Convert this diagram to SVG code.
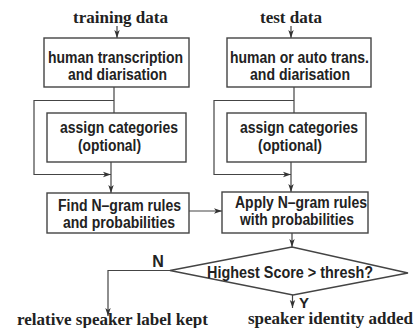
<svg xmlns="http://www.w3.org/2000/svg" width="415" height="328" viewBox="0 0 415 328">
<style>
.box{fill:#fff;stroke:#444;stroke-width:1.4}
.ln{fill:none;stroke:#444;stroke-width:1.2}
.t{font-family:"Liberation Sans",Arial,sans-serif;font-weight:bold;font-size:16px;fill:#222;text-anchor:middle}
.s{font-family:"Liberation Serif","Times New Roman",serif;font-weight:bold;font-size:16px;fill:#222;text-anchor:middle}
</style>
<defs>
<marker id="ah" markerUnits="userSpaceOnUse" markerWidth="9" markerHeight="7" refX="8" refY="3.5" orient="auto">
<path d="M0,0.8 L8,3.5 L0,6.2 L2,3.5 z" fill="#333"/>
</marker>
</defs>
<rect width="415" height="328" fill="#fff"/>
<g id="connectors">
<line class="ln" x1="117" y1="26" x2="117" y2="38" marker-end="url(#ah)"/>
<line class="ln" x1="291" y1="26" x2="291" y2="38" marker-end="url(#ah)"/>
<line class="ln" x1="114" y1="87" x2="114" y2="113"/>
<polyline class="ln" points="114,100.5 34,100.5 34,174.5 111,174.5" marker-end="url(#ah)"/>
<line class="ln" x1="111" y1="162" x2="111" y2="193" marker-end="url(#ah)"/>
<line class="ln" x1="294" y1="87" x2="294" y2="113"/>
<polyline class="ln" points="294,100.5 214,100.5 214,174.5 291,174.5" marker-end="url(#ah)"/>
<line class="ln" x1="291" y1="162" x2="291" y2="192" marker-end="url(#ah)"/>
<line class="ln" x1="189" y1="211" x2="222" y2="211" marker-end="url(#ah)"/>
<line class="ln" x1="292" y1="233" x2="292" y2="247" marker-end="url(#ah)"/>
<polyline class="ln" points="170,270.5 108,270.5 108,316" marker-end="url(#ah)"/>
<line class="ln" x1="292.5" y1="295" x2="292.5" y2="308" marker-end="url(#ah)"/>
</g>
<g id="title-training"><text class="s" x="120.5" y="23" textLength="95" lengthAdjust="spacingAndGlyphs">training data</text></g>
<g id="title-test"><text class="s" x="291" y="23" textLength="62" lengthAdjust="spacingAndGlyphs">test data</text></g>
<g id="n-train-trans">
<rect class="box" x="44" y="38" width="145" height="49"/>
<text class="t" x="115.5" y="63" textLength="135" lengthAdjust="spacingAndGlyphs">human transcription</text>
<text class="t" x="117.5" y="79.5" textLength="99" lengthAdjust="spacingAndGlyphs">and diarisation</text>
</g>
<g id="n-test-trans">
<rect class="box" x="227" y="38" width="144" height="49"/>
<text class="t" x="299.5" y="63" textLength="139" lengthAdjust="spacingAndGlyphs">human or auto trans.</text>
<text class="t" x="300" y="79.5" textLength="100" lengthAdjust="spacingAndGlyphs">and diarisation</text>
</g>
<g id="n-train-cat">
<rect class="box" x="47" y="113" width="139" height="49"/>
<text class="t" x="119" y="133" textLength="118" lengthAdjust="spacingAndGlyphs">assign categories</text>
<text class="t" x="109.5" y="151" textLength="63" lengthAdjust="spacingAndGlyphs">(optional)</text>
</g>
<g id="n-test-cat">
<rect class="box" x="227" y="113" width="139" height="49"/>
<text class="t" x="299" y="133" textLength="118" lengthAdjust="spacingAndGlyphs">assign categories</text>
<text class="t" x="290" y="151" textLength="64" lengthAdjust="spacingAndGlyphs">(optional)</text>
</g>
<g id="n-find">
<rect class="box" x="47" y="193" width="142" height="40"/>
<text class="t" x="119.5" y="211" textLength="123" lengthAdjust="spacingAndGlyphs">Find N–gram rules</text>
<text class="t" x="119" y="228" textLength="112" lengthAdjust="spacingAndGlyphs">and probabilities</text>
</g>
<g id="n-apply">
<rect class="box" x="222" y="192" width="146" height="41"/>
<text class="t" x="301" y="207.5" textLength="132" lengthAdjust="spacingAndGlyphs">Apply N–gram rules</text>
<text class="t" x="297" y="225" textLength="114" lengthAdjust="spacingAndGlyphs">with probabilities</text>
</g>
<g id="n-decision">
<polygon class="box" points="170,270.5 292,247 408,273 293,295"/>
<text class="t" x="290" y="277.5" textLength="166" lengthAdjust="spacingAndGlyphs">Highest Score &gt; thresh?</text>
</g>
<g id="lbl-N"><text class="t" x="158" y="266.5">N</text></g>
<g id="lbl-Y"><text class="t" x="304" y="308" style="font-size:15px">Y</text></g>
<g id="out-relative"><text class="s" x="112.5" y="325" textLength="191" lengthAdjust="spacingAndGlyphs">relative speaker label kept</text></g>
<g id="out-identity"><text class="s" x="330.5" y="323.5" textLength="165" lengthAdjust="spacingAndGlyphs">speaker identity added</text></g>
</svg>
